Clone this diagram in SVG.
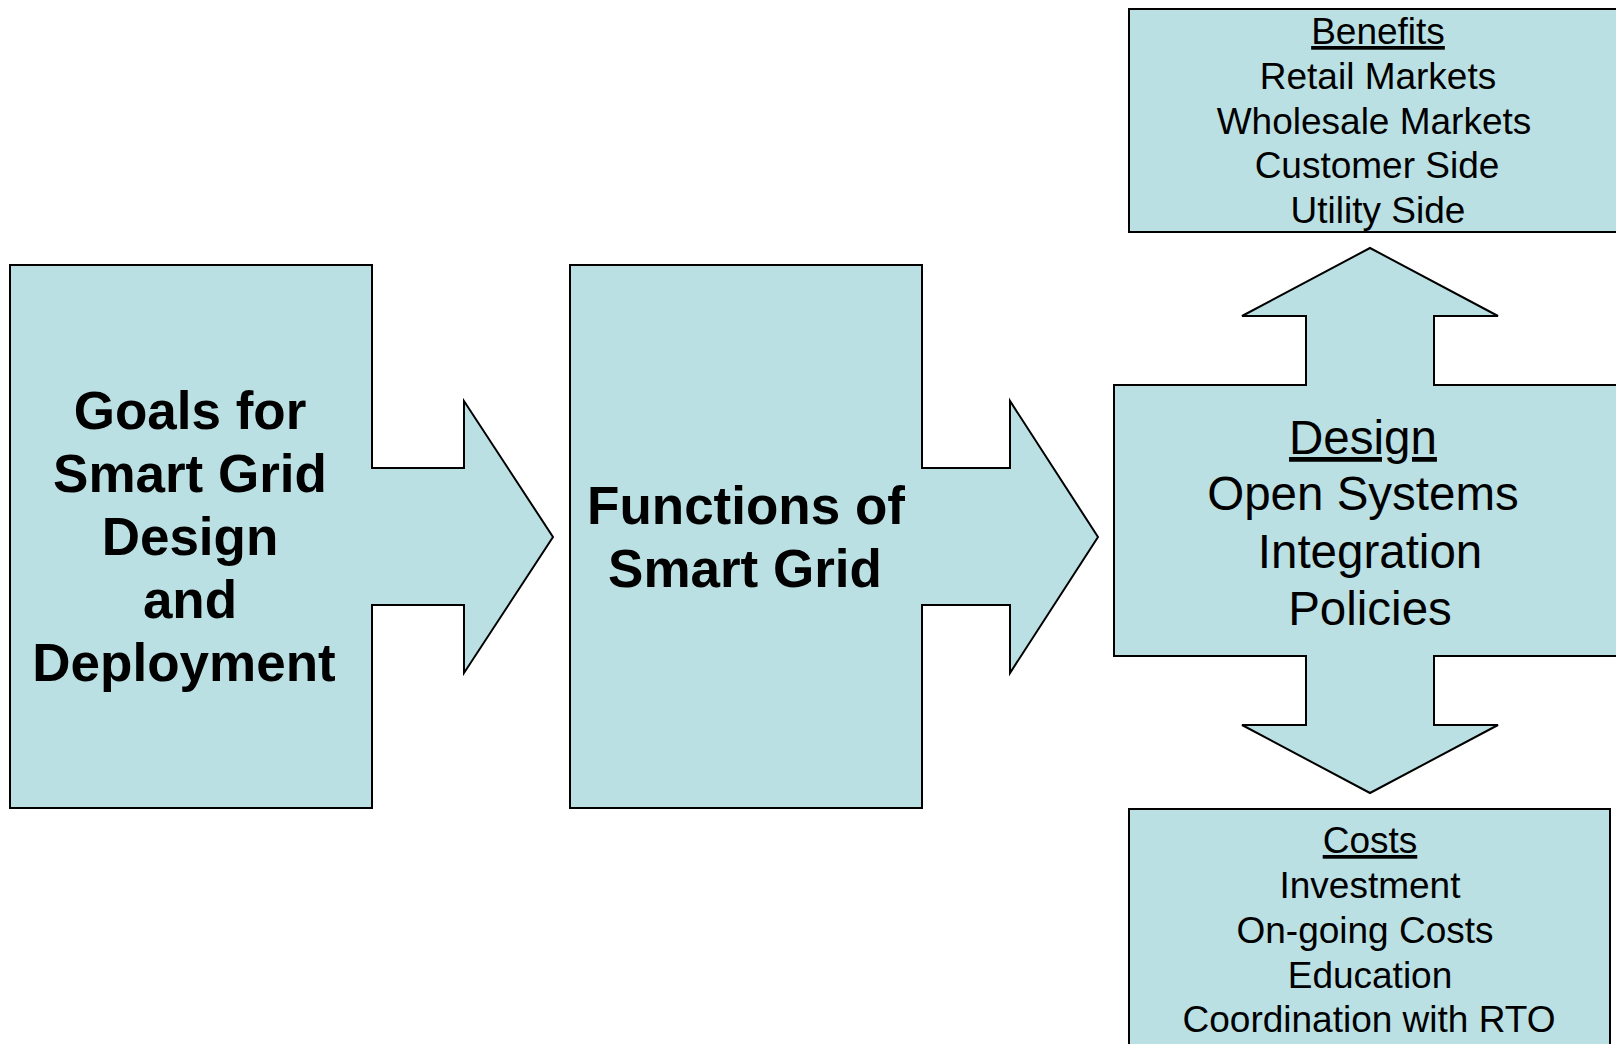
<svg xmlns="http://www.w3.org/2000/svg" width="1616" height="1044" viewBox="0 0 1616 1044">
<style>
.shape{fill:#BBE0E3;stroke:#000;stroke-width:2;stroke-linejoin:miter}
.big{font-family:"Liberation Sans",Arial,sans-serif;font-weight:bold;font-size:53px;fill:#000;text-anchor:middle}
.mid{font-family:"Liberation Sans",Arial,sans-serif;font-size:47.5px;fill:#000;text-anchor:middle}
.small{font-family:"Liberation Sans",Arial,sans-serif;font-size:37px;fill:#000;text-anchor:middle}
.u{text-decoration:underline}
</style>
<rect width="1616" height="1044" fill="#fff"/>
<g id="connectors"></g>
<g id="goals">
<polygon class="shape" points="10,265 372,265 372,468 464,468 464,401 553,537 464,673 464,605 372,605 372,808 10,808"/>
<text class="big" x="190" y="429">Goals for</text>
<text class="big" x="190" y="492">Smart Grid</text>
<text class="big" x="190" y="555">Design</text>
<text class="big" x="190" y="618">and</text>
<text class="big" x="184" y="681">Deployment</text>
</g>
<g id="functions">
<polygon class="shape" points="570,265 922,265 922,468 1010,468 1010,401 1098,537 1010,673 1010,605 922,605 922,808 570,808"/>
<text class="big" x="746" y="524">Functions of</text>
<text class="big" x="745" y="587">Smart Grid</text>
</g>
<g id="design">
<polygon class="shape" points="1114,385 1306,385 1306,316 1242,316 1370,248 1498,316 1434,316 1434,385 1626,385 1626,656 1434,656 1434,725 1498,725 1370,793 1242,725 1306,725 1306,656 1114,656"/>
<text class="mid u" x="1363" y="454">Design</text>
<text class="mid" x="1363" y="510">Open Systems</text>
<text class="mid" x="1370" y="568">Integration</text>
<text class="mid" x="1370" y="625">Policies</text>
</g>
<g id="benefits">
<rect class="shape" x="1129" y="9" width="500" height="223"/>
<text class="small u" x="1378" y="44">Benefits</text>
<text class="small" x="1378" y="89">Retail Markets</text>
<text class="small" x="1374" y="134">Wholesale Markets</text>
<text class="small" x="1377" y="178">Customer Side</text>
<text class="small" x="1378" y="223">Utility Side</text>
</g>
<g id="costs">
<rect class="shape" x="1129" y="809" width="481" height="260"/>
<text class="small u" x="1370" y="853">Costs</text>
<text class="small" x="1370" y="898">Investment</text>
<text class="small" x="1365" y="943">On-going Costs</text>
<text class="small" x="1370" y="988">Education</text>
<text class="small" x="1369" y="1032">Coordination with RTO</text>
</g>
</svg>
